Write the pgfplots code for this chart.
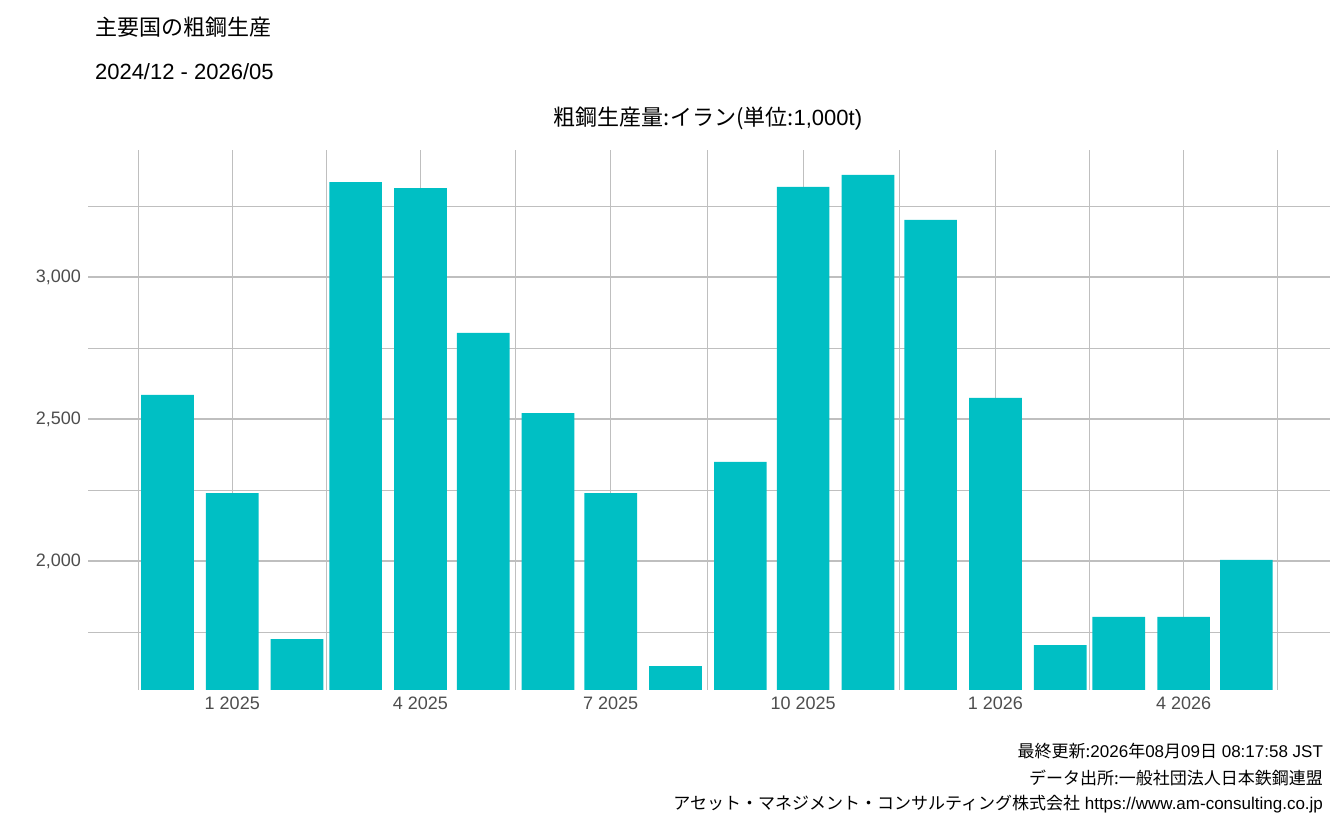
\documentclass[border=0pt]{standalone}
\usepackage{pgfplots}
\pgfplotsset{compat=1.18}
\usepackage{fontspec}
\setmainfont{Liberation Sans}
\newfontfamily\cjk{Noto Sans CJK JP}
\definecolor{bar}{HTML}{00BFC4}
\definecolor{grid}{HTML}{EBEBEB}
\definecolor{tick}{HTML}{4D4D4D}
\begin{document}
\begin{tikzpicture}
\path (0,0) rectangle (672pt,415pt);
\begin{axis}[at={(44pt,70pt)}, anchor=south west, scale only axis,
  width=621pt, height=270pt,
  xmin=-38, xmax=556, ymin=1546, ymax=3447,
  axis line style={draw=none}, major tick length=0pt, minor tick length=0pt,
  xtick={31,121,212,304,396,486},
  xticklabels={1 2025,4 2025,7 2025,10 2025,1 2026,4 2026},
  minor xtick={-14,76,166.5,258,350,441,531},
  ytick={2000,2500,3000},
  minor ytick={1750,2250,2750,3250},
  yticklabels={2{,}000,2{,}500,3{,}000},
  grid=both, major grid style={grid,line width=0.6pt}, minor grid style={grid,line width=0.3pt},
  tick label style={font=\fontsize{9}{10}\selectfont, text=tick},
  ybar, bar width=25.2, clip=true]
\addplot[fill=bar, draw=none] coordinates {
(0,2585) (31,2239) (62,1725) (90,3334) (121,3313) (151,2803) (182,2521) (212,2239) (243,1630)
(274,2349) (304,3317) (335,3359) (365,3201) (396,2574) (427,1704) (455,1803) (486,1803) (516,2004)};
\end{axis}
\node[anchor=base west, font=\fontsize{11}{12}\selectfont] at (44pt,397pt) {\cjk 主要国の粗鋼生産};
\node[anchor=base west, font=\fontsize{11}{12}\selectfont] at (44pt,375pt) {2024/12 - 2026/05};
\node[anchor=base, font=\fontsize{11}{12}\selectfont] at (354pt,352pt) {{\cjk 粗鋼生産量:イラン(単位:}1,000t)};
\node[anchor=base east, font=\fontsize{8.5}{10}\selectfont] at (665pt,36pt) {{\cjk 最終更新:}2026{\cjk 年}08{\cjk 月}09{\cjk 日} 08:17:58 JST};
\node[anchor=base east, font=\fontsize{8.5}{10}\selectfont] at (665pt,23pt) {\cjk データ出所:一般社団法人日本鉄鋼連盟};
\node[anchor=base east, font=\fontsize{8.5}{10}\selectfont] at (665pt,10pt) {{\cjk アセット・マネジメント・コンサルティング株式会社} https://www.am-consulting.co.jp};
\end{tikzpicture}
\end{document}
